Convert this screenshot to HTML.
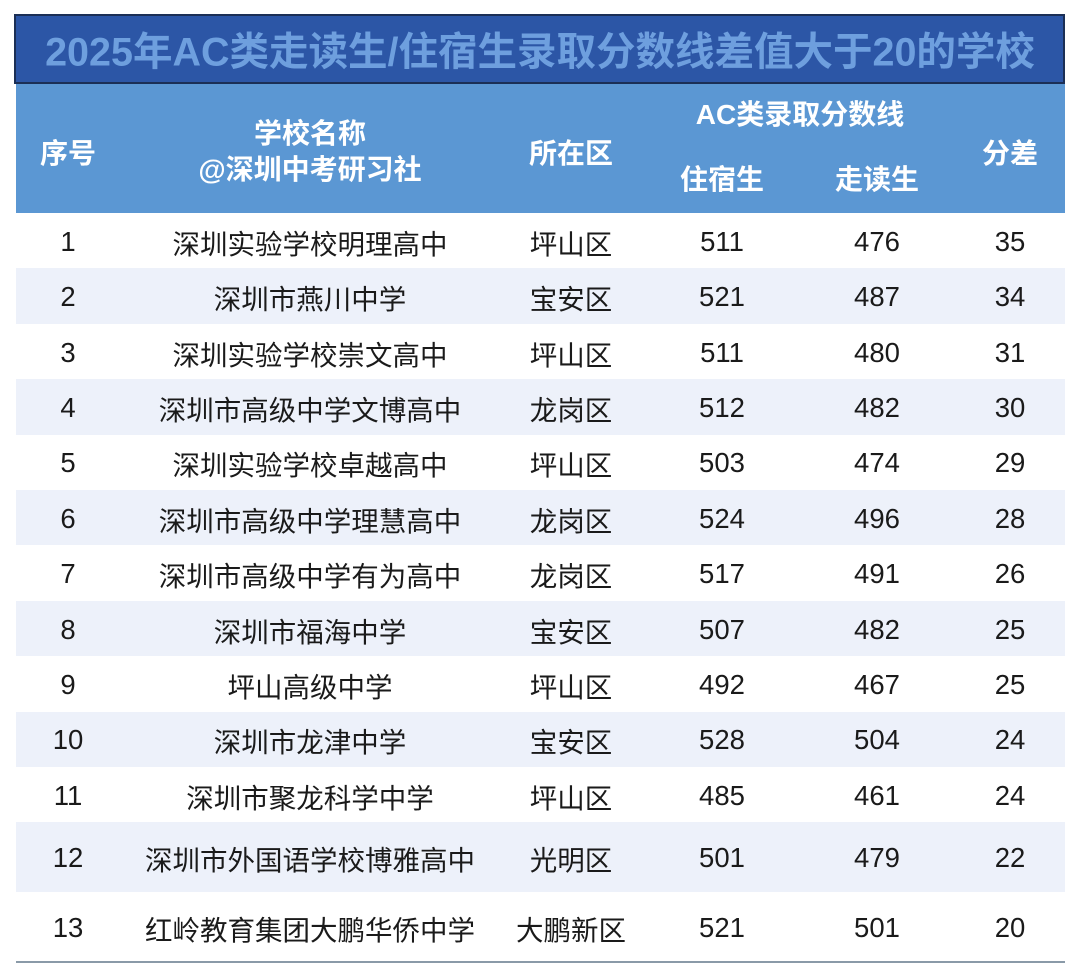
<!DOCTYPE html>
<html><head><meta charset="utf-8"><style>
body{margin:0;width:1080px;height:977px;background:#fff;position:relative;overflow:hidden;font-family:"Liberation Sans","Noto Sans CJK SC",sans-serif;}
.abs{position:absolute;}
.t{position:absolute;transform:translate(-50%,-50%);white-space:nowrap;}
.title{left:14px;top:14px;width:1051px;height:70px;background:#2c56a6;border:2px solid #1b2f55;box-sizing:border-box;}
.hdr{left:16px;top:84px;width:1049px;height:129px;background:#5b97d3;}
.h{color:#fff;font-weight:bold;font-size:28px;}
.c{color:#1a1a1a;font-size:27.5px;}
</style></head><body>
<div class="abs title"></div>
<div class="t" style="left:540px;top:49px;color:#6e9fde;font-weight:bold;font-size:39.5px;">2025年AC类走读生/住宿生录取分数线差值大于20的学校</div>
<div class="abs hdr"></div>
<div class="t h" style="left:68px;top:152px">序号</div>
<div class="t h" style="left:310px;top:132px">学校名称</div>
<div class="t h" style="left:310px;top:168px">@深圳中考研习社</div>
<div class="t h" style="left:571px;top:152px">所在区</div>
<div class="t h" style="left:800px;top:113px">AC类录取分数线</div>
<div class="t h" style="left:722px;top:178px">住宿生</div>
<div class="t h" style="left:877px;top:178px">走读生</div>
<div class="t h" style="left:1010px;top:152px">分差</div>
<div id="rows"></div>
<div class="abs" style="left:16px;top:961px;width:1049px;height:2px;background:#8a9aa8"></div>
<script>
const schools=["深圳实验学校明理高中","深圳市燕川中学","深圳实验学校崇文高中","深圳市高级中学文博高中","深圳实验学校卓越高中","深圳市高级中学理慧高中","深圳市高级中学有为高中","深圳市福海中学","坪山高级中学","深圳市龙津中学","深圳市聚龙科学中学","深圳市外国语学校博雅高中","红岭教育集团大鹏华侨中学"];
const districts=["坪山区","宝安区","坪山区","龙岗区","坪山区","龙岗区","龙岗区","宝安区","坪山区","宝安区","坪山区","光明区","大鹏新区"];
const boarding=[511,521,511,512,503,524,517,507,492,528,485,501,521];
const day=[476,487,480,482,474,496,491,482,467,504,461,479,501];
const diff=[35,34,31,30,29,28,26,25,25,24,24,22,20];
const root=document.getElementById('rows');
const tops=[];let y=213;
for(let i=0;i<schools.length;i++){const h=i<11?55.4:70;tops.push([y,h]);y+=h;}
const cols=[68,310,571,722,877,1010];
for(let i=0;i<schools.length;i++){
  const [ty,h]=tops[i];
  const bg=document.createElement('div');
  bg.className='abs';
  bg.style.cssText=`left:16px;top:${ty}px;width:1049px;height:${h}px;background:${i%2?'#edf1fa':'#fff'}`;
  
  
  root.appendChild(bg);
  const vals=[i+1,schools[i],districts[i],boarding[i],day[i],diff[i]];
  const names=['index','school','district','boarding-score','day-score','score-diff'];
  vals.forEach((v,j)=>{
    const d=document.createElement('div');
    d.className='t c';
    d.style.left=cols[j]+'px';d.style.top=(ty+h/2+1)+'px';
    d.textContent=v;
    
    
    root.appendChild(d);
  });
}
</script>
</body></html>
